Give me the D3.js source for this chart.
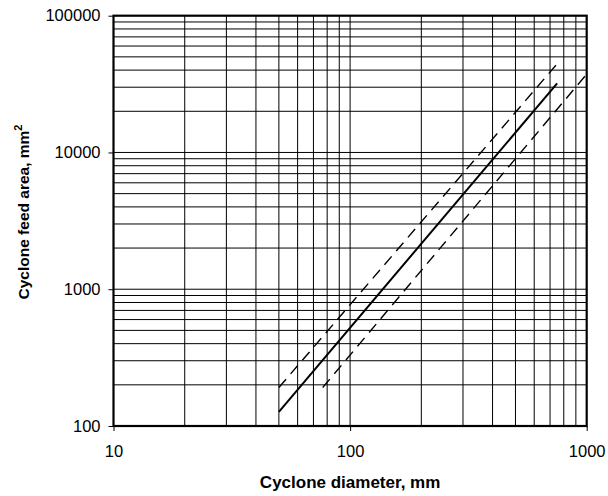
<!DOCTYPE html>
<html>
<head>
<meta charset="utf-8">
<script src="https://cdn.jsdelivr.net/npm/d3@7"></script>
<style>
  body { margin: 0; background: #fff; }
  svg { display: block; }
</style>
</head>
<body>
<div id="chart"></div>
<script>
// Cyclone feed area vs cyclone diameter (log-log)

const xDecades = [10, 100, 1000];
const yDecades = [100, 1000, 10000, 100000];

// each line is straight on log-log axes, so two end points each
const solidLine = [ { d: 50, a: 127 }, { d: 750, a: 32000 } ];
const upperDashed = [ { d: 50, a: 191 }, { d: 760, a: 45700 } ];
const lowerDashed = [ { d: 76.6, a: 191 }, { d: 1000, a: 37400 } ];

const W = 608, H = 496;
const plot = { left: 113.5, right: 586.7, top: 15.7, bottom: 426 };

const svg = d3.select("#chart").append("svg")
    .attr("width", W)
    .attr("height", H)
    .style("font-family", "'Liberation Sans', Arial, Helvetica, sans-serif");

const x = d3.scaleLog().domain([10, 1000]).range([plot.left, plot.right]);
const y = d3.scaleLog().domain([100, 100000]).range([plot.bottom, plot.top]);

// minor + major grid: 1..9 x 10^k
const xGrid = [];
for (let k = 1; k < 3; k++) for (let m = 2; m <= 9; m++) xGrid.push(m * Math.pow(10, k));
const yGrid = [];
for (let k = 2; k < 5; k++) for (let m = 2; m <= 9; m++) yGrid.push(m * Math.pow(10, k));
yGrid.push(1000, 10000);
xGrid.push(100);

svg.append("g").selectAll("line")
    .data(xGrid)
    .join("line")
    .attr("x1", d => x(d)).attr("x2", d => x(d))
    .attr("y1", plot.top).attr("y2", plot.bottom)
    .attr("stroke", "#000")
    .attr("stroke-width", 1);

svg.append("g").selectAll("line")
    .data(yGrid)
    .join("line")
    .attr("x1", plot.left).attr("x2", plot.right)
    .attr("y1", d => y(d)).attr("y2", d => y(d))
    .attr("stroke", "#000")
    .attr("stroke-width", 1);

// axes (decade ticks only)
const yAxis = svg.append("g")
    .attr("transform", `translate(${plot.left},0)`)
    .call(d3.axisLeft(y).tickValues(yDecades).tickFormat(d3.format("d")).tickSize(5).tickPadding(8));

const xAxis = svg.append("g")
    .attr("transform", `translate(0,${plot.bottom})`)
    .call(d3.axisBottom(x).tickValues(xDecades).tickFormat(d3.format("d")).tickSize(5).tickPadding(14));

[xAxis, yAxis].forEach(ax => {
    ax.select(".domain").remove();
    ax.selectAll(".tick line").attr("stroke", "#000").attr("stroke-width", 1);
    ax.selectAll("text")
        .attr("fill", "#000")
        .attr("font-size", "16.5px")
        .attr("font-family", "'Liberation Sans', Arial, Helvetica, sans-serif");
});

// frame
svg.append("rect")
    .attr("x", plot.left)
    .attr("y", plot.top)
    .attr("width", plot.right - plot.left)
    .attr("height", plot.bottom - plot.top)
    .attr("fill", "none")
    .attr("stroke", "#000")
    .attr("stroke-width", 2.2);

// data lines
const line = d3.line().x(p => x(p.d)).y(p => y(p.a));

svg.append("path")
    .datum(solidLine)
    .attr("d", line)
    .attr("fill", "none")
    .attr("stroke", "#000")
    .attr("stroke-width", 2);

[upperDashed, lowerDashed].forEach(pts => {
    svg.append("path")
        .datum(pts)
        .attr("d", line)
        .attr("fill", "none")
        .attr("stroke", "#000")
        .attr("stroke-width", 1.4)
        .attr("stroke-dasharray", "11,7");
});

// axis titles
svg.append("text")
    .attr("x", (plot.left + plot.right) / 2)
    .attr("y", 488)
    .attr("text-anchor", "middle")
    .attr("font-size", "17px")
    .attr("font-weight", "bold")
    .text("Cyclone diameter, mm");

const yt = svg.append("text")
    .attr("transform", `translate(29,212) rotate(-90)`)
    .attr("text-anchor", "middle")
    .attr("font-size", "15.5px")
    .attr("font-weight", "bold");
yt.append("tspan").text("Cyclone feed area, mm");
yt.append("tspan")
    .attr("font-size", "11px")
    .attr("dy", "-7")
    .text("2");
</script>
</body>
</html>
